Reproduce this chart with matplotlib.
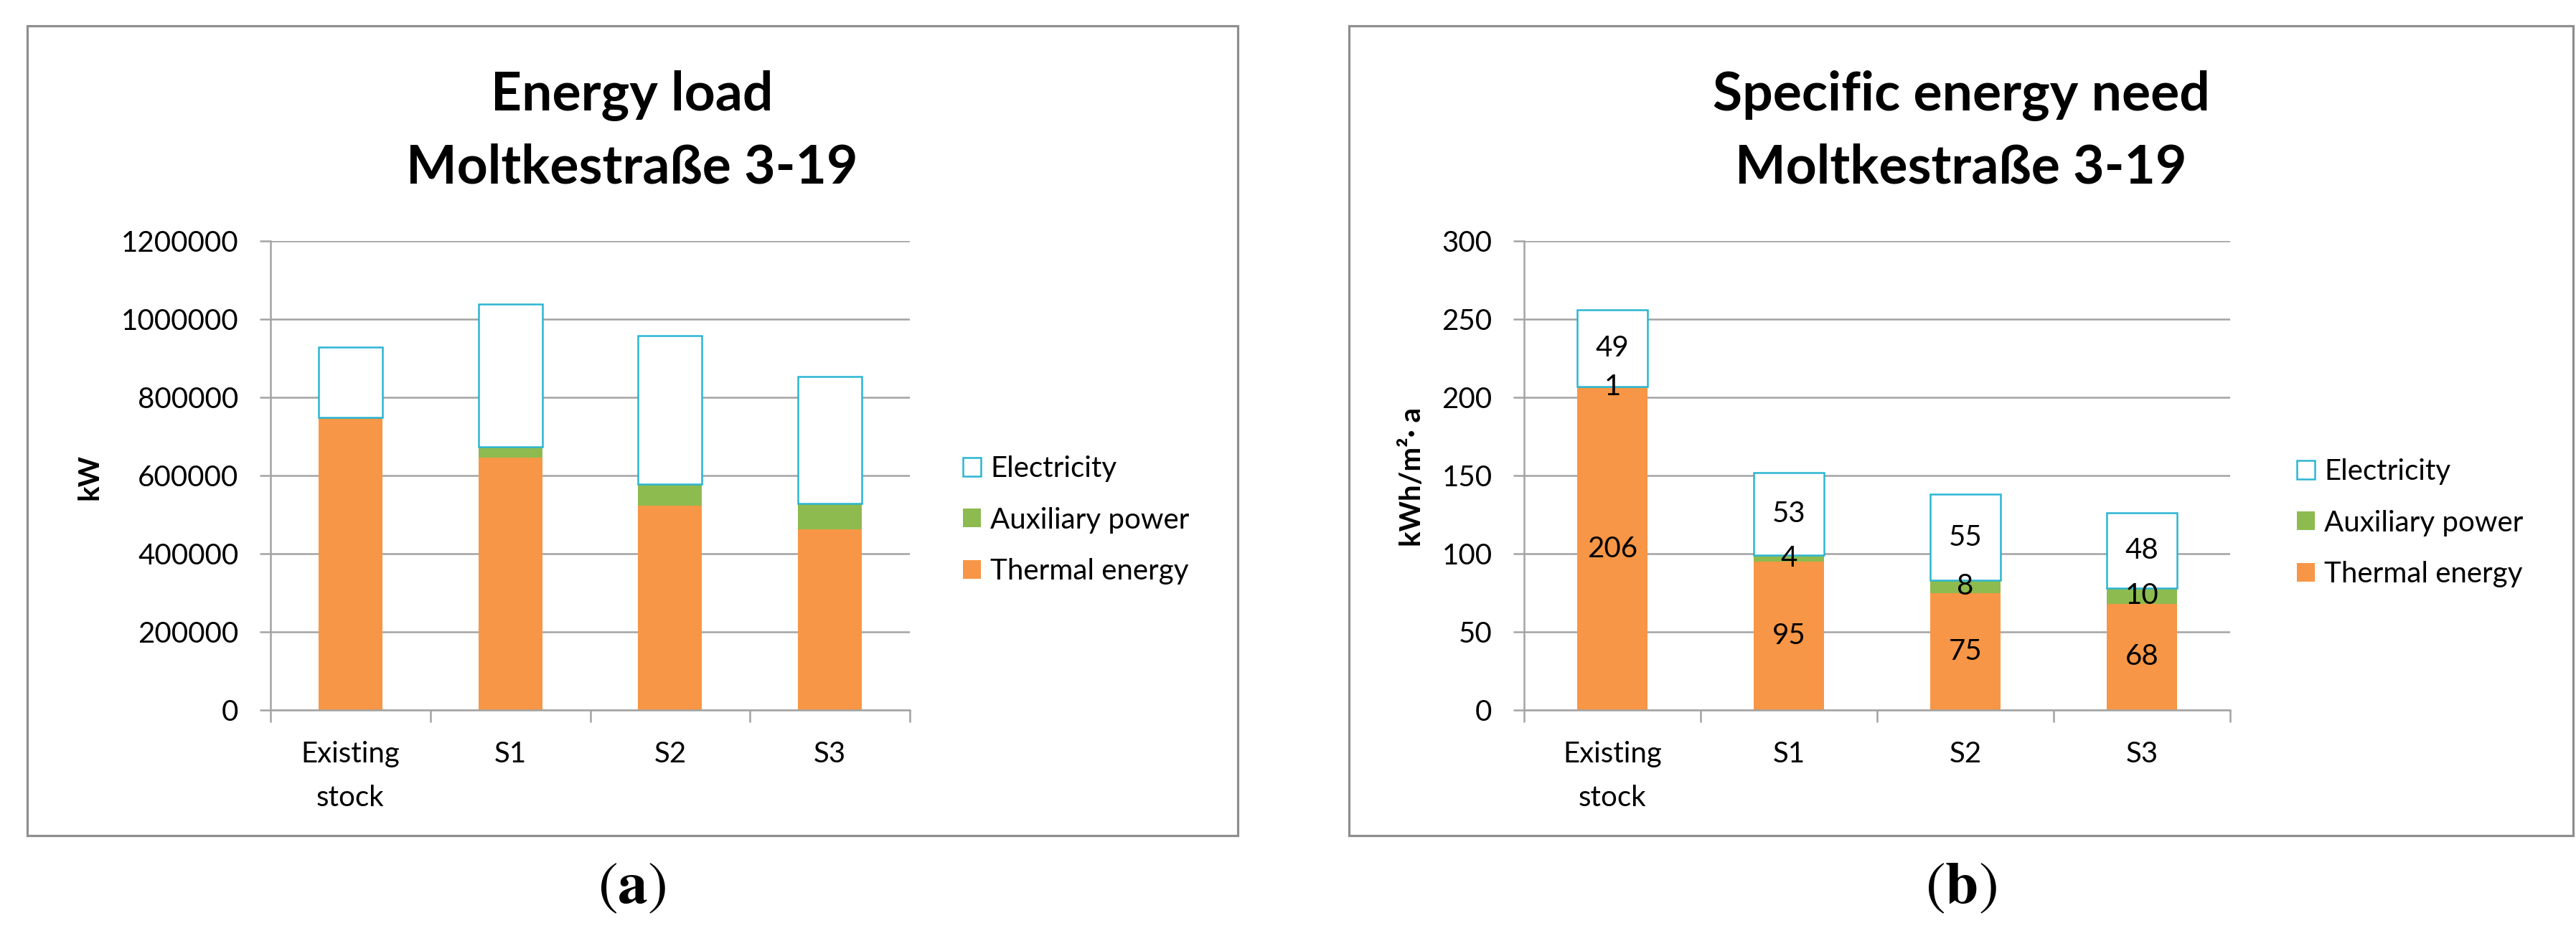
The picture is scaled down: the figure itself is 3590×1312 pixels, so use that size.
import matplotlib
matplotlib.use("Agg")
import matplotlib.pyplot as plt
from matplotlib.patches import Rectangle, Patch
from matplotlib.ticker import FixedLocator, FuncFormatter

plt.rcParams['font.family'] = ['Lato', 'DejaVu Sans']
plt.rcParams['mathtext.fontset'] = 'stix'

categories = ["Existing\nstock", "S1", "S2", "S3"]
series_names = ["Electricity", "Auxiliary power", "Thermal energy"]

load_thermal = [745000, 646000, 523000, 462000]
load_aux = [3600, 28000, 55000, 66000]
load_elec = [179000, 365000, 380000, 325000]

need_thermal = [206, 95, 75, 68]
need_aux = [1, 4, 8, 10]
need_elec = [49, 53, 55, 48]

title_left = ["Energy load", "Moltkestraße 3-19"]
title_right = ["Specific energy need", "Moltkestraße 3-19"]
ylabel_left = "kW"
ylabel_right = "kWh/m²· a"
panel_labels = ["a", "b"]

C_THERM = "#F79646"
C_AUX = "#8DBB4F"
C_ELEC = "#2BB5D2"
C_GRID = "#A3A3A3"
C_FRAME = "#8E8E8E"

W, H = 3590, 1312
DPI = 100
fig = plt.figure(figsize=(W / DPI, H / DPI), dpi=DPI)
FS = 29


def fx(px):
    return px / W


def fy(py):
    return 1 - py / H


def frame(x0, y0, x1, y1):
    fig.patches.append(Rectangle((fx(x0), fy(y1)), fx(x1) - fx(x0), fy(y0) - fy(y1),
                                 transform=fig.transFigure, fill=False,
                                 edgecolor=C_FRAME, linewidth=2.3, zorder=0))


def make_axes(x0, x1, y0, y1):
    ax = fig.add_axes([fx(x0), fy(y1), fx(x1) - fx(x0), fy(y0) - fy(y1)])
    return ax


def style(ax, ymax, ystep, fmt):
    ax.set_xlim(-0.5, len(categories) - 0.5)
    ax.set_ylim(0, ymax)
    yt = list(range(0, ymax + 1, ystep))
    ax.set_yticks(yt)
    ax.yaxis.set_major_formatter(FuncFormatter(fmt))
    ax.set_xticks(range(len(categories)))
    ax.set_xticklabels(categories, linespacing=1.8)
    ax.xaxis.set_minor_locator(FixedLocator([i - 0.5 for i in range(len(categories) + 1)]))
    ax.tick_params(axis='x', which='major', length=0, pad=31, labelsize=FS)
    ax.tick_params(axis='x', which='minor', length=12, width=1.8, color=C_GRID, direction='out')
    ax.tick_params(axis='y', which='major', length=11, width=1.8, color=C_GRID,
                   direction='out', pad=21, labelsize=FS)
    for s in ['top', 'right']:
        ax.spines[s].set_visible(False)
    for s in ['left', 'bottom']:
        ax.spines[s].set_color(C_GRID)
        ax.spines[s].set_linewidth(1.8)
    ax.yaxis.grid(True, color=C_GRID, linewidth=1.8)
    ax.set_axisbelow(True)
    ax.set_facecolor('none')


def bars(ax, therm, aux, elec):
    x = range(len(categories))
    ax.bar(x, therm, width=0.4, color=C_THERM, linewidth=0, zorder=2)
    bottoms = [t for t in therm]
    ax.bar(x, aux, width=0.4, bottom=bottoms, color=C_AUX, linewidth=0, zorder=2)
    bottoms2 = [t + a for t, a in zip(therm, aux)]
    ax.bar(x, elec, width=0.4, bottom=bottoms2, facecolor='white', edgecolor=C_ELEC,
           linewidth=1.8, zorder=3)


def legend(ax, x_left, y_center):
    handles = [Patch(facecolor='white', edgecolor=C_ELEC, linewidth=1.8),
               Patch(facecolor=C_AUX, edgecolor='none'),
               Patch(facecolor=C_THERM, edgecolor='none')]
    fs_px = FS * DPI / 72
    ax.legend(handles, series_names, loc='center left',
              bbox_to_anchor=(fx(x_left), fy(y_center)), bbox_transform=fig.transFigure,
              frameon=False, fontsize=FS, borderpad=0, borderaxespad=0,
              handlelength=25 / fs_px, handleheight=25 / fs_px,
              handletextpad=13 / fs_px, labelspacing=0.85)


def titles(lines, xc):
    fig.text(fx(xc), fy(154), lines[0], ha='center', va='baseline',
             fontsize=54, fontweight='bold')
    fig.text(fx(xc), fy(256), lines[1], ha='center', va='baseline',
             fontsize=54, fontweight='bold')


# Left panel
frame(38, 36, 1725, 1165)
axL = make_axes(377, 1268, 336, 990)
style(axL, 1200000, 200000, lambda v, p: f"{int(v)}")
bars(axL, load_thermal, load_aux, load_elec)
legend(axL, 1342, 725)
titles(title_left, 881)
fig.text(fx(125), fy(665), ylabel_left, rotation=90, ha='center', va='center',
         fontsize=FS, fontweight='bold')

# Right panel
frame(1880, 36, 3586, 1165)
axR = make_axes(2124, 3108, 336, 990)
style(axR, 300, 50, lambda v, p: f"{int(v)}")
bars(axR, need_thermal, need_aux, need_elec)
legend(axR, 3201, 729)
titles(title_right, 2733)
fig.text(fx(1968), fy(665), ylabel_right, rotation=90, ha='center', va='center',
         fontsize=FS, fontweight='bold')

# data labels on right panel
for i in range(len(categories)):
    t, a, e = need_thermal[i], need_aux[i], need_elec[i]
    axR.text(i, t / 2, str(t), ha='center', va='center', fontsize=FS, zorder=5)
    axR.text(i, t + a / 2, str(a), ha='center', va='center', fontsize=FS, zorder=5)
    axR.text(i, t + a + e / 2, str(e), ha='center', va='center', fontsize=FS, zorder=5)

# panel labels
for lab, xc in zip(panel_labels, [881, 2733]):
    fig.text(fx(xc), fy(1238), r'$(\mathbf{' + lab + r'})$', ha='center', va='center',
             fontsize=60)

fig.savefig("out.png", dpi=DPI)
